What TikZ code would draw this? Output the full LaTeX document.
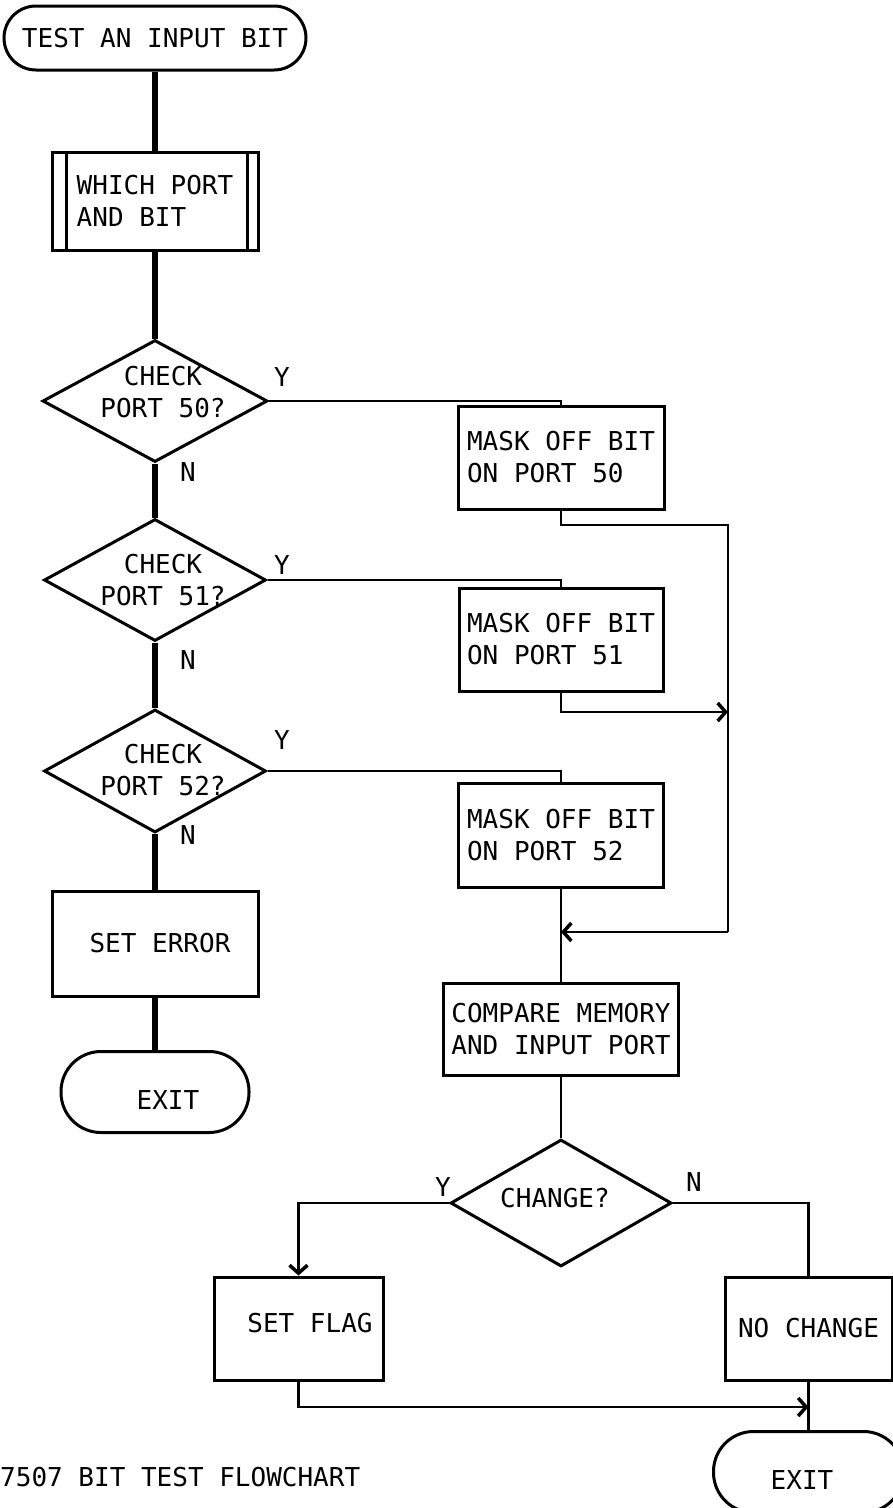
\documentclass[tikz,border=0pt]{standalone}
\usepackage{fontspec}
\newfontfamily\lettering{DejaVu Sans Mono}
\usetikzlibrary{shapes.geometric,arrows.meta}
\begin{document}
\begin{tikzpicture}[x=1pt,y=-1pt,
  txt/.style={font=\lettering\fontsize{26}{32}\selectfont, align=left, inner sep=0pt},
  box/.style={draw, line width=3pt, rectangle, inner sep=0pt},
  term/.style={draw, line width=3pt, rectangle, inner sep=0pt},
  dec/.style={draw, diamond, line width=3pt, inner sep=0pt},
  spine/.style={line width=6.5pt},
  flow/.style={line width=2.8pt},
  barb/.style={-{Straight Barb[length=8pt,width=18pt,line width=3.5pt]}},
]
\useasboundingbox (0,0) rectangle (893,1508);

% left column
\node[term, rounded corners=32pt, minimum width=302pt, minimum height=64pt, txt] (start) at (155,38) {TEST AN INPUT BIT};
\node[box, minimum width=206pt, minimum height=98pt, txt] (wp) at (155,201) {WHICH PORT\\AND BIT};
\draw[flow] ([xshift=16pt]wp.north west) -- ([xshift=16pt]wp.south west);
\draw[flow] ([xshift=-12pt]wp.north east) -- ([xshift=-12pt]wp.south east);

\node[dec, minimum width=225pt, minimum height=122pt] (d1) at (155,401) {};
\node[txt, align=center] (d1t) at (163,392) {CHECK\\PORT 50?};
\node[dec, minimum width=222pt, minimum height=122pt] (d2) at (155,580) {};
\node[txt, align=center] (d2t) at (163,580) {CHECK\\PORT 51?};
\node[dec, minimum width=222pt, minimum height=123pt] (d3) at (155,771) {};
\node[txt, align=center] (d3t) at (163,770) {CHECK\\PORT 52?};

\node[box, minimum width=206pt, minimum height=105pt] (err) at (155,944) {};
\node[txt] (errt) at (160,943) {SET ERROR};
\node[term, rounded corners=40pt, minimum width=188pt, minimum height=81pt] (exit1) at (155,1092) {};
\node[txt] (exit1t) at (168,1100) {EXIT};

% labels
\node[txt] (y1) at (282,377) {Y};
\node[txt] (n1) at (188,472) {N};
\node[txt] (y2) at (282,565) {Y};
\node[txt] (n2) at (188,660) {N};
\node[txt] (y3) at (282,740) {Y};
\node[txt] (n3) at (188,835) {N};

% right column
\node[box, minimum width=206pt, minimum height=103pt, txt] (m1) at (561,457.5) {MASK OFF BIT\\ON PORT 50};
\node[box, minimum width=204pt, minimum height=103pt, txt] (m2) at (561,639.5) {MASK OFF BIT\\ON PORT 51};
\node[box, minimum width=205pt, minimum height=104pt, txt] (m3) at (561,835) {MASK OFF BIT\\ON PORT 52};
\node[box, minimum width=235pt, minimum height=92pt, txt] (cmp) at (561,1029) {COMPARE MEMORY\\AND INPUT PORT};
\node[dec, minimum width=221pt, minimum height=127pt] (chg) at (561,1203) {};
\node[txt] (chgt) at (555,1198) {CHANGE?};
\node[txt] (y4) at (443,1187) {Y};
\node[txt] (n4) at (694,1182) {N};

\node[box, minimum width=169pt, minimum height=103pt] (flag) at (298.5,1328.5) {};
\node[txt] (flagt) at (310,1323) {SET FLAG};
\node[box, minimum width=167pt, minimum height=103pt, txt] (noch) at (808.5,1328.5) {NO CHANGE};
\node[term, rounded corners=40pt, minimum width=190pt, minimum height=81pt] (exit2) at (808.5,1472) {};
\node[txt] (exit2t) at (802,1480) {EXIT};

\node[txt, anchor=west] (title) at (0,1477) {7507 BIT TEST FLOWCHART};

% connectors
\draw[spine] (start) -- (wp);
\draw[spine] (wp) -- (d1);
\draw[spine] (d1) -- (d2);
\draw[spine] (d2) -- (d3);
\draw[spine] (d3) -- (err);
\draw[spine] (err) -- (exit1);

\draw[flow] (d1.east) -| (m1.north);
\draw[flow] (d2.east) -| (m2.north);
\draw[flow] (d3.east) -| (m3.north);

\coordinate (b1) at (728,525);
\coordinate (b2) at (728,712);
\coordinate (b3) at (728,932);
\draw[flow] (m1.south) |- (b1) -- (b3);
\draw[flow, barb] (b3) -- (b3 -| m3.south);
\draw[flow, barb] (m2.south) |- (b2);
\draw[flow] (m3) -- (cmp);
\draw[flow] (cmp) -- (chg);

\draw[flow, barb] (chg.west) -| (flag.north);
\draw[flow] (chg.east) -| (noch.north);
\coordinate (b4) at (808.5,1407);
\draw[flow, barb] (flag.south) |- (b4);
\draw[flow] (noch) -- (exit2);
\end{tikzpicture}
\end{document}
